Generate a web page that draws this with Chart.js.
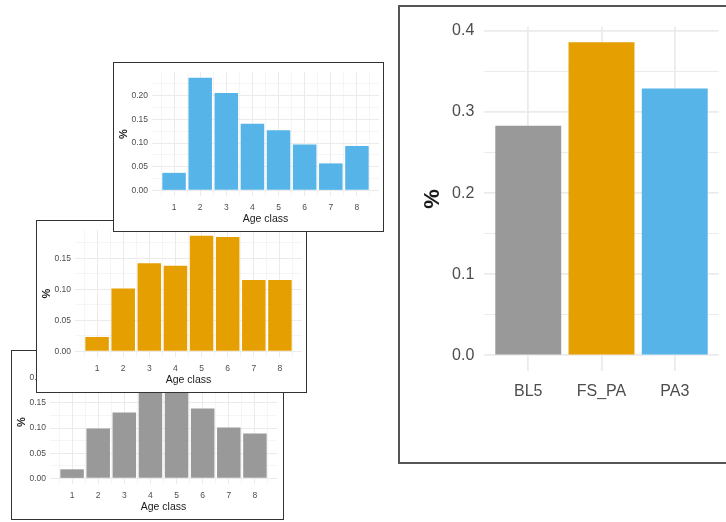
<!DOCTYPE html>
<html>
<head>
<meta charset="utf-8">
<script src="https://cdn.jsdelivr.net/npm/chart.js@4.4.1/dist/chart.umd.min.js"></script>
<style>
  html, body { margin: 0; padding: 0; background: #fff; }
  body { width: 726px; height: 522px; position: relative; overflow: hidden; }
  .panel { position: absolute; background: #fff; border: 1.5px solid #333; box-sizing: border-box; }
  .panel canvas { position: absolute; left: 0; top: 0; }
</style>
</head>
<body>
<div class="panel" style="left:10.5px;top:350px;width:273.5px;height:170px;z-index:1"><canvas id="ageBL5"></canvas></div>
<div class="panel" style="left:36px;top:220px;width:271px;height:172.5px;z-index:2"><canvas id="ageFSPA"></canvas></div>
<div class="panel" style="left:112.5px;top:62px;width:271.5px;height:169.5px;z-index:3"><canvas id="agePA3"></canvas></div>
<div class="panel" style="left:398px;top:5px;width:340px;height:458.5px;border:2px solid #555"><canvas id="sites"></canvas></div>

<script>
// age class shares per site
const ageClasses = [1, 2, 3, 4, 5, 6, 7, 8];
const ageBL5 = [0.018, 0.099, 0.131, 0.200, 0.224, 0.139, 0.101, 0.089];
const ageFSPA = [0.023, 0.101, 0.142, 0.138, 0.186, 0.184, 0.115, 0.115];
const agePA3 = [0.037, 0.238, 0.206, 0.141, 0.127, 0.097, 0.057, 0.094];

// overall share per site
const sites = ['BL5', 'FS_PA', 'PA3'];
const siteShare = [0.283, 0.386, 0.329];
const siteColors = ['#999999', '#E69F00', '#56B4E9'];

// grid breaks (majors get a label, the rest are minor lines)
const ageTicksX = [0.5, 1, 1.5, 2, 2.5, 3, 3.5, 4, 4.5, 5, 5.5, 6, 6.5, 7, 7.5, 8, 8.5];
const ageTicksY = [0, 0.025, 0.05, 0.075, 0.1, 0.125, 0.15, 0.175, 0.2, 0.225, 0.25];
const siteTicksY = [0, 0.05, 0.1, 0.15, 0.2, 0.25, 0.3, 0.35, 0.4];

const FONT = "'Liberation Sans', Arial, sans-serif";
const TICK_COL = '#4D4D4D';
const GRID_COL = '#EBEBEB';

const isMajor = (v, step) => Math.abs(v / step - Math.round(v / step)) < 1e-6;
const useTicks = (list) => (axis) => {
  axis.ticks = list.filter(v => v >= axis.min - 1e-9 && v <= axis.max + 1e-9).map(v => ({ value: v }));
};
// grid width by break type; context may come without a tick
const gridWidth = (step, major, minor) => (c) =>
  (c.tick && isMajor(c.tick.value, step)) ? major : minor;

function sizeCanvas(canvas) {
  const box = canvas.parentElement;
  canvas.width = box.clientWidth;
  canvas.height = box.clientHeight;
}

function ageChart(id, values, color) {
  const canvas = document.getElementById(id);
  sizeCanvas(canvas);
  const top = Math.max(...values);
  // ggplot-like range: bars are 0.9 wide, then 5% expansion
  const lo = ageClasses[0] - 0.45, hi = ageClasses[ageClasses.length - 1] + 0.45;
  const padX = (hi - lo) * 0.05;
  const yAxisW = 38, plotW = 227, xAxisH = 35;

  new Chart(canvas, {
    type: 'bar',
    data: {
      datasets: [{
        data: ageClasses.map((a, i) => ({ x: a, y: values[i] })),
        backgroundColor: color,
        borderWidth: 0,
        categoryPercentage: 1,
        barPercentage: 1.8 // ruler uses the 0.5 minor tick gap -> 0.9 class width
      }]
    },
    options: {
      responsive: false,
      animation: false,
      layout: { padding: { top: 2.3, right: canvas.width - yAxisW - plotW, bottom: 0, left: 0 } },
      plugins: { legend: { display: false }, tooltip: { enabled: false } },
      scales: {
        x: {
          type: 'linear',
          offset: false,
          min: lo - padX,
          max: hi + padX,
          afterBuildTicks: useTicks(ageTicksX),
          afterFit: (s) => { s.height = xAxisH; },
          border: { display: false },
          grid: { offset: false, color: GRID_COL, drawTicks: false, lineWidth: gridWidth(1, 1, 0.5) },
          ticks: {
            autoSkip: false,
            maxRotation: 0,
            padding: 6.5,
            color: TICK_COL,
            font: { family: FONT, size: 8.5 },
            callback: (v) => isMajor(v, 1) ? String(ageClasses[Math.round(v) - 1]) : ''
          },
          title: {
            display: true,
            text: 'Age class',
            color: '#1a1a1a',
            font: { family: FONT, size: 10.5 },
            padding: { top: 0, bottom: 5.5 }
          }
        },
        y: {
          min: -0.05 * top,
          max: 1.05 * top,
          afterBuildTicks: useTicks(ageTicksY),
          afterFit: (s) => { s.width = yAxisW; },
          border: { display: false },
          grid: { color: GRID_COL, drawTicks: false, lineWidth: gridWidth(0.05, 1, 0.5) },
          ticks: {
            autoSkip: false,
            padding: 4,
            color: TICK_COL,
            font: { family: FONT, size: 8.5 },
            callback: (v) => isMajor(v, 0.05) ? v.toFixed(2) : ''
          },
          title: {
            display: true,
            text: '%',
            color: '#1a1a1a',
            font: { family: FONT, size: 11, weight: 'bold' },
            padding: { top: 3.4, bottom: 0 }
          }
        }
      }
    }
  });
}

ageChart('ageBL5', ageBL5, siteColors[0]);
ageChart('ageFSPA', ageFSPA, siteColors[1]);
ageChart('agePA3', agePA3, siteColors[2]);

// big summary panel
(function () {
  const canvas = document.getElementById('sites');
  sizeCanvas(canvas);
  const top = Math.max(...siteShare);
  const yAxisW = 84.3, plotW = 234.4, xAxisH = 91;

  new Chart(canvas, {
    type: 'bar',
    data: {
      datasets: [{
        data: sites.map((s, i) => ({ x: i + 1, y: siteShare[i] })),
        backgroundColor: siteColors,
        borderWidth: 0,
        categoryPercentage: 1,
        barPercentage: 0.9
      }]
    },
    options: {
      responsive: false,
      animation: false,
      layout: { padding: { top: 19.7, right: canvas.width - yAxisW - plotW, bottom: 0, left: 0 } },
      plugins: { legend: { display: false }, tooltip: { enabled: false } },
      scales: {
        x: {
          type: 'linear',
          offset: false,
          min: 0.4,
          max: sites.length + 0.6,
          afterBuildTicks: useTicks(sites.map((s, i) => i + 1)),
          afterFit: (s) => { s.height = xAxisH; },
          border: { display: false },
          grid: { offset: false, color: GRID_COL, drawTicks: false, lineWidth: 1.8 },
          ticks: {
            autoSkip: false,
            maxRotation: 0,
            padding: 10.6,
            color: TICK_COL,
            font: { family: FONT, size: 16 },
            callback: (v) => sites[Math.round(v) - 1]
          }
        },
        y: {
          min: -0.05 * top,
          max: 1.05 * top,
          afterBuildTicks: useTicks(siteTicksY),
          afterFit: (s) => { s.width = yAxisW; },
          border: { display: false },
          grid: { color: GRID_COL, drawTicks: false, lineWidth: gridWidth(0.1, 1.8, 1) },
          ticks: {
            autoSkip: false,
            padding: 10,
            color: TICK_COL,
            font: { family: FONT, size: 16 },
            callback: (v) => isMajor(v, 0.1) ? v.toFixed(1) : ''
          },
          title: {
            display: true,
            text: '%',
            color: '#1a1a1a',
            font: { family: FONT, size: 22, weight: 'bold' },
            padding: { top: 20, bottom: 0 }
          }
        }
      }
    }
  });
})();
</script>
</body>
</html>
